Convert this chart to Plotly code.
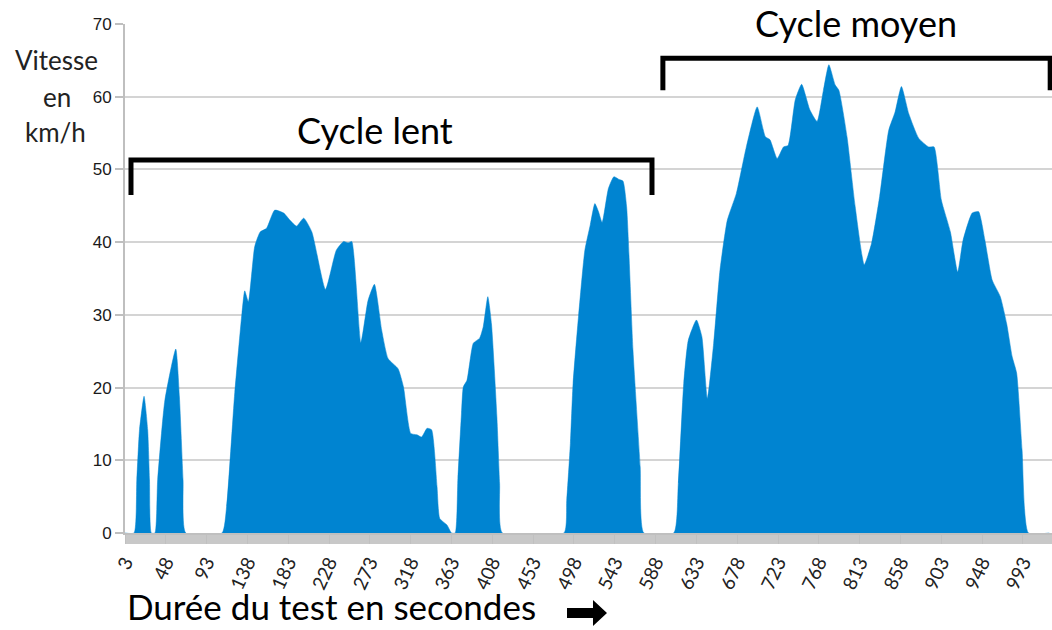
import plotly.graph_objects as go

# ---- data (time in s, speed in km/h) ----
time_s = [3, 13, 16, 19, 24, 28, 30, 32, 36, 39, 47, 59, 63, 67, 70, 110, 115, 124, 132, 135, 139, 146,
          152, 159, 168, 178,
          185, 192, 200, 209, 224, 236, 244, 249, 253, 263, 271, 278, 286, 293, 304, 310, 318,
          325, 330, 336, 341, 347, 350, 358, 363,
          367, 370, 374, 376, 380, 387, 394, 398, 403, 407, 413, 416, 419,
          487, 490, 494, 497, 503, 510, 516, 521, 525, 529, 536, 542, 548, 552, 556, 563, 571, 575,
          608, 613, 619, 624, 633, 639, 645, 652, 659, 667, 677, 688, 700, 709, 714, 722, 729,
          734, 742, 749, 758, 766, 773, 779, 786, 790, 799, 808, 818, 826, 835, 845, 852, 859,
          867, 878, 889, 895, 903, 913, 921, 927, 937, 944, 951, 959, 968, 975, 981, 986, 992,
          999, 1022]
speed_kmh = [0, 0, 7.3, 14.2, 18.8, 14.2, 7.3, 0, 0, 7.3, 18.3, 25.3, 18.7, 7.3, 0, 0, 3.6, 19.3, 30.3,
             33.3, 31.8, 39.4,
             41.4, 41.9, 44.4, 44.0,
             43.0, 42.2, 43.3, 41.4, 33.5, 38.9, 40.1, 39.9, 40.1, 26.2, 32.0, 34.2, 27.9, 24.0, 22.6, 20.1, 13.7,
             13.5, 13.2, 14.4, 14.2, 6.4, 2.0, 1.1, 0,
             0, 7.5, 16.5, 20.1, 21.0, 26.1, 26.8, 28.4, 32.5, 28.8, 16.0, 6.8, 0,
             0, 4.5, 12.3, 20.6, 29.8, 38.9, 42.4, 45.3, 44.2, 42.7, 47.4, 49.0, 48.6, 48.4, 44.9, 25.2, 9.1, 0,
             0, 6.8, 20.6, 26.5, 29.3, 27.0, 18.5, 26.1, 36.2, 43.0, 46.7, 53.1, 58.6, 54.5, 54.1, 51.5, 53.1,
             53.3, 59.6, 61.7, 58.2, 56.6, 60.9, 64.4, 61.6, 60.9, 54.5, 44.9, 36.9, 39.8, 46.3, 55.4, 57.9, 61.4,
             57.7, 54.3, 53.1, 53.1, 45.8, 41.4, 35.9, 40.3, 44.0, 44.2, 40.3, 34.8, 32.5, 28.8, 24.3, 22.0, 11.4,
             0, 0]

tick_labels = list(range(3, 1000, 45))

cycle_names = ["Cycle lent", "Cycle moyen"]
cycle_start = [9.6, 596]
cycle_end = [584, 1023]

# ---- layout geometry (pixels) ----
W, H = 1052, 630
L, R, T, B = 125, 0, 24, 97
PW, PH = W - L - R, H - T - B


def px(x):
    return (x - L) / PW


def py(y):
    return (H - B - y) / PH


blue = "#0084D1"
fig = go.Figure()
fig.add_trace(go.Scatter(
    x=time_s, y=speed_kmh, mode="lines",
    line=dict(color=blue, width=0.5, shape="spline", smoothing=0.5),
    fill="tozeroy", fillcolor=blue, hoverinfo="x+y", showlegend=False))

# brackets and cycle labels
bracket_top = [51.3, 65.3]
bracket_leg = [46.5, 60.9]
label_px = [(375, 130), (856, 23)]
for name, x0, x1, yt, yl, (lx, ly) in zip(cycle_names, cycle_start, cycle_end, bracket_top,
                                           bracket_leg, label_px):
    fig.add_shape(type="path", xref="x", yref="y",
                  path=f"M {x0} {yl} L {x0} {yt} L {x1} {yt} L {x1} {yl}",
                  line=dict(color="black", width=5), layer="above")
    fig.add_annotation(x=px(lx), y=py(ly), xref="paper", yref="paper", text=name,
                       showarrow=False, font=dict(family="Lato", size=36, color="black"),
                       xanchor="center", yanchor="middle")

# y title (three lines)
for txt, cx, cy in [("Vitesse", 56, 60), ("en", 57, 97), ("km/h", 55, 132)]:
    fig.add_annotation(x=px(cx), y=py(cy), xref="paper", yref="paper", text=txt,
                       showarrow=False, xanchor="center", yanchor="middle",
                       font=dict(family="Lato", size=26, color="#222"))

# x title + arrow
fig.add_annotation(x=px(125), y=py(606), xref="paper", yref="paper",
                   text="Durée du test en secondes", showarrow=False,
                   xanchor="left", yanchor="middle",
                   font=dict(family="Lato", size=35, color="black"))
pts = [(567, 608), (593, 608), (593, 600), (607, 613), (593, 626), (593, 618), (567, 618)]
path = "M " + " L ".join(f"{px(a):.5f} {py(b):.5f}" for a, b in pts) + " Z"
fig.add_shape(type="path", xref="paper", yref="paper", path=path,
              fillcolor="black", line=dict(color="black", width=0))

fig.update_xaxes(
    range=[3, 1025], tickmode="array", tickvals=tick_labels,
    ticktext=[str(v) for v in tick_labels], tickangle=-65, automargin=False,
    tickfont=dict(family="Lato", size=19, color="#222"),
    showgrid=False, zeroline=False, showline=True, linecolor="#bfbfbf", linewidth=2,
    ticks="outside", ticklen=9, tickcolor="#c0c0c0", tickwidth=1,
    minor=dict(dtick=1, tick0=3, ticks="outside", ticklen=9, tickcolor="#c8c8c8", tickwidth=1),
)
fig.update_yaxes(
    range=[0, 70], dtick=10, automargin=False,
    tickfont=dict(family="Liberation Sans", size=17, color="#1a1a1a"),
    showgrid=True, gridcolor="#d4d4d4", gridwidth=2, zeroline=False,
    showline=True, linecolor="#bfbfbf", linewidth=2,
    ticks="outside", ticklen=8, tickcolor="#bfbfbf", tickwidth=2,
)
fig.update_layout(
    width=W, height=H, margin=dict(l=L, r=R, t=T, b=B, autoexpand=False),
    paper_bgcolor="white", plot_bgcolor="white", showlegend=False,
)
fig.write_html("out.html", config={"displayModeBar": False},
               post_script="document.body.style.margin='0';document.body.style.overflow='hidden';")
